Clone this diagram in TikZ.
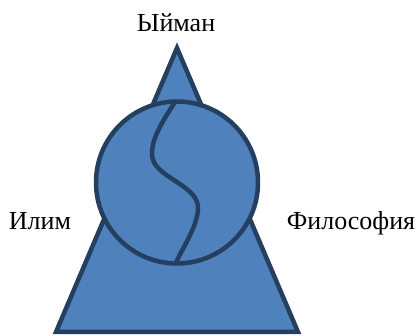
\documentclass[tikz,border=0pt]{standalone}
\usepackage{fontspec}
\setmainfont{Liberation Serif}
\newfontfamily\lblfont[Script=Cyrillic]{Liberation Serif}
\definecolor{fillblue}{HTML}{4F81BD}
\definecolor{edgeblue}{HTML}{243F60}
\begin{document}
\begin{tikzpicture}[x=1pt,y=-1pt,
  shapestyle/.style={fill=fillblue,draw=edgeblue,line width=4.5pt,line join=miter},
  curvestyle/.style={draw=edgeblue,line width=4.5pt,line cap=round},
  lbl/.style={font=\lblfont\fontsize{26}{30}\selectfont,inner sep=0pt,anchor=base}]
\useasboundingbox (0,0) rectangle (418,336);
\coordinate (apex) at (177,48);
\coordinate (bl) at (56,332);
\coordinate (br) at (298,332);
\filldraw[shapestyle] (apex) -- (br) -- (bl) -- cycle;
\coordinate (cc) at (177,182.5);
\filldraw[shapestyle] (cc) circle[radius=81];
\coordinate (stop) at (175,102);
\coordinate (sbot) at (176,263);
\draw[curvestyle] (stop) .. controls (162,122) and (145,148) .. (155,164)
  .. controls (165,180) and (200,188) .. (198,210)
  .. controls (196,230) and (181,250) .. (sbot);
\node[lbl] (iman) at (176,32) {Ыйман};
\node[lbl] (ilim) at (40,230) {Илим};
\node[lbl] (filo) at (351,230) {Философия};
\end{tikzpicture}
\end{document}
